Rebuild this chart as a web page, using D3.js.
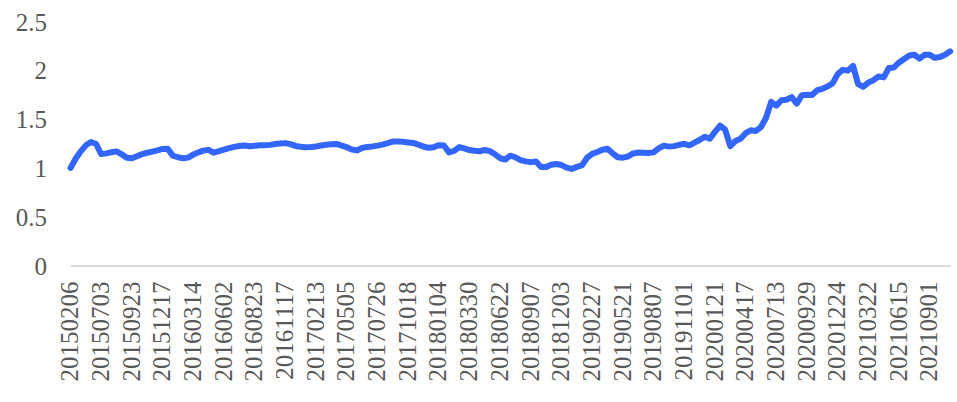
<!DOCTYPE html>
<html>
<head>
<meta charset="utf-8">
<script src="https://cdn.jsdelivr.net/npm/d3@7"></script>
<style>
  html, body { margin: 0; padding: 0; background: #fff; }
  svg { display: block; }
</style>
</head>
<body>
<svg id="chart" width="957" height="402"></svg>
<script>
// Tick labels shown on the category axis (every 6th category)
const tickLabels = [
  "20150206","20150703","20150923","20151217","20160314","20160602",
  "20160823","20161117","20170213","20170505","20170726","20171018",
  "20180104","20180330","20180622","20180907","20181203","20190227",
  "20190521","20190807","20191101","20200121","20200417","20200713",
  "20200929","20201224","20210322","20210615","20210901"
];
const labelEvery = 6;

// Series values
const values = [
  1.00,1.095,1.17,1.232,1.266,1.246,1.142,1.15,1.161,1.17,
  1.14,1.104,1.10,1.121,1.142,1.156,1.168,1.181,1.195,1.198,
  1.127,1.11,1.10,1.106,1.137,1.16,1.178,1.186,1.156,1.173,
  1.188,1.203,1.216,1.226,1.231,1.223,1.229,1.233,1.233,1.237,
  1.245,1.25,1.255,1.245,1.226,1.218,1.213,1.216,1.221,1.23,
  1.239,1.243,1.247,1.23,1.213,1.19,1.18,1.205,1.216,1.221,
  1.229,1.239,1.254,1.271,1.272,1.268,1.262,1.257,1.24,1.22,
  1.207,1.213,1.234,1.23,1.16,1.175,1.214,1.20,1.184,1.177,
  1.172,1.184,1.173,1.14,1.10,1.087,1.126,1.11,1.081,1.068,
  1.06,1.067,1.01,1.01,1.033,1.041,1.03,1.003,0.99,1.011,
  1.026,1.105,1.145,1.164,1.187,1.197,1.15,1.11,1.106,1.118,
  1.149,1.158,1.157,1.153,1.16,1.20,1.229,1.219,1.224,1.237,
  1.248,1.232,1.26,1.287,1.32,1.30,1.37,1.433,1.393,1.224,
  1.276,1.30,1.357,1.387,1.38,1.42,1.515,1.678,1.64,1.695,
  1.70,1.727,1.66,1.747,1.75,1.749,1.798,1.812,1.835,1.867,
  1.963,2.006,1.998,2.047,1.86,1.832,1.877,1.90,1.939,1.929,
  2.025,2.031,2.082,2.118,2.153,2.161,2.122,2.16,2.16,2.13,
  2.138,2.162,2.196
];

const yTicks = [0, 0.5, 1, 1.5, 2, 2.5];

const svg = d3.select("#chart");
const fontFamily = "'Liberation Serif','Times New Roman',serif";
const textColor = "#595959";

const x = d3.scaleLinear().domain([0, values.length - 1]).range([70.5, 950.2]);
const y = d3.scaleLinear().domain([0, 2.5]).range([265.5, 21.7]);

// Y axis labels
const yAxis = d3.axisLeft(y).tickValues(yTicks).tickSize(0).tickPadding(0)
  .tickFormat(d => d3.format("")(d));
const yg = svg.append("g").attr("transform", "translate(47,0)").call(yAxis);
yg.select(".domain").remove();
yg.selectAll("text")
  .attr("font-family", fontFamily)
  .attr("font-size", 25)
  .attr("fill", textColor)
  .attr("dy", "0.34em");

// X axis
const xAxis = d3.axisBottom(x)
  .tickValues(tickLabels.map((d, i) => i * labelEvery))
  .tickFormat((d, i) => tickLabels[i])
  .tickSize(0)
  .tickPadding(0);
const xg = svg.append("g").attr("transform", `translate(0,${y(0)})`).call(xAxis);
xg.select(".domain").attr("stroke", "#d9d9d9").attr("stroke-width", 2);
xg.selectAll("text")
  .attr("font-family", fontFamily)
  .attr("font-size", 25)
  .attr("fill", textColor)
  .attr("text-anchor", "end")
  .attr("transform", "rotate(-90)")
  .attr("x", -16)
  .attr("y", -1.5)
  .attr("dy", "0.35em");

// Line
const line = d3.line().x((d, i) => x(i)).y(d => y(d)).curve(d3.curveLinear);
svg.append("path")
  .datum(values)
  .attr("fill", "none")
  .attr("stroke", "#3366ff")
  .attr("stroke-width", 6)
  .attr("stroke-linejoin", "round")
  .attr("stroke-linecap", "round")
  .attr("d", line);
</script>
</body>
</html>
